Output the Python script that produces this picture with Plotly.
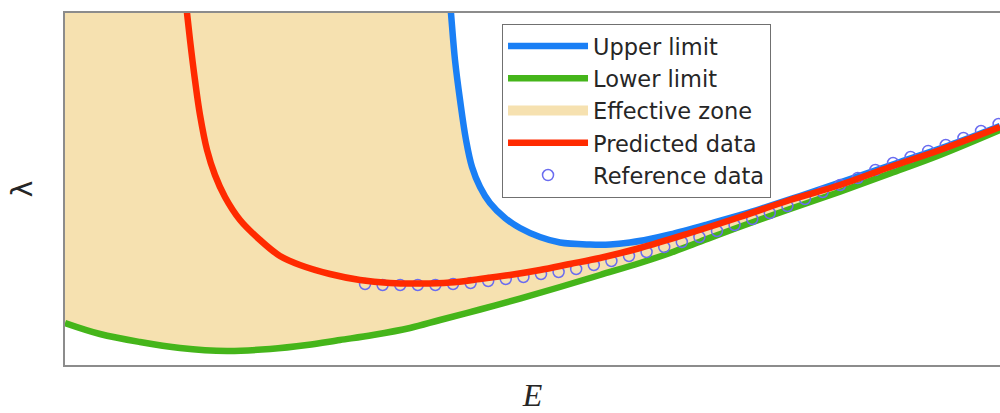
import numpy as np
import plotly.graph_objects as go

# ---- data (arbitrary units) ----
X_MAX = 10.0
Y_TOP = 10.0

upper_x = [4.107, 4.128, 4.171, 4.225, 4.289, 4.353, 4.439, 4.545, 4.706, 4.866,
           5.080, 5.294, 5.615, 5.829, 6.043, 6.257, 6.471, 6.866, 7.219, 7.433,
           7.861, 8.396, 8.930, 9.465, 10.0]
upper_y = [10.65, 10.0, 8.665, 7.528, 6.392, 5.625, 5.057, 4.602, 4.176, 3.892,
           3.636, 3.480, 3.423, 3.423, 3.480, 3.580, 3.707, 3.991, 4.261, 4.432,
           4.801, 5.284, 5.767, 6.250, 6.790]

lower_x = [0.0, 0.374, 0.802, 1.230, 1.733, 2.193, 2.588, 2.941, 3.294, 3.690,
           4.011, 4.439, 4.866, 5.294, 5.722, 6.150, 6.471, 6.791, 7.219, 7.754,
           8.289, 8.824, 9.358, 10.0]
lower_y = [1.193, 0.881, 0.653, 0.483, 0.398, 0.455, 0.568, 0.710, 0.852, 1.051,
           1.278, 1.577, 1.889, 2.216, 2.557, 2.898, 3.182, 3.503, 3.929, 4.432,
           4.923, 5.440, 5.966, 6.676]

pred_x = [1.283, 1.305, 1.337, 1.390, 1.444, 1.519, 1.604, 1.711, 1.872, 2.086,
          2.299, 2.513, 2.834, 3.155, 3.476, 3.797, 4.118, 4.439, 4.759, 5.080,
          5.401, 5.722, 6.150, 6.684, 7.219, 7.754, 8.289, 8.824, 9.358, 10.0]
pred_y = [10.65, 10.0, 9.233, 8.097, 7.102, 6.108, 5.398, 4.773, 4.119, 3.551,
          3.097, 2.841, 2.585, 2.415, 2.330, 2.315, 2.344, 2.443, 2.557, 2.699,
          2.869, 3.040, 3.324, 3.750, 4.205, 4.688, 5.114, 5.625, 6.108, 6.761]

ref_x = [3.209, 3.397, 3.585, 3.773, 3.961, 4.150, 4.338, 4.526, 4.714, 4.903,
         5.091, 5.279, 5.467, 5.656, 5.844, 6.032, 6.220, 6.409, 6.597, 6.785,
         6.973, 7.161, 7.350, 7.538, 7.726, 7.914, 8.103, 8.291, 8.479, 8.667,
         8.856, 9.044, 9.232, 9.420, 9.609, 9.797, 9.985]
ref_y = [2.301, 2.273, 2.273, 2.273, 2.273, 2.301, 2.330, 2.386, 2.443, 2.500,
         2.585, 2.642, 2.727, 2.841, 2.955, 3.097, 3.210, 3.352, 3.494, 3.636,
         3.807, 3.977, 4.148, 4.318, 4.517, 4.716, 4.915, 5.114, 5.313, 5.540,
         5.739, 5.909, 6.080, 6.250, 6.449, 6.648, 6.847]

names = ["Upper limit", "Lower limit", "Effective zone", "Predicted data", "Reference data"]

# effective zone polygon: lower limit up to min(upper limit, top of axes)
zone_x = list(lower_x) + list(upper_x[::-1]) + [0.0]
zone_y = list(lower_y) + list(np.minimum(np.array(upper_y[::-1]), Y_TOP)) + [Y_TOP]

BLUE = "#1a7ff5"
GREEN = "#45b51a"
RED = "#ff2a00"
ZONE = "#f6e1b0"
CIRC = "#6a6cf0"
LW = 6.5

fig = go.Figure()
fig.add_trace(go.Scatter(x=zone_x, y=zone_y, fill="toself", fillcolor=ZONE,
                         mode="lines", line=dict(width=0, color=ZONE),
                         name=names[2], showlegend=False, legendgroup="zone", hoverinfo="skip"))
# legend-only swatch for the zone (thick block like the original)
fig.add_trace(go.Scatter(x=[None], y=[None], mode="lines", line=dict(color=ZONE, width=20),
                         name=names[2], legendgroup="zone", legendrank=3))
fig.add_trace(go.Scatter(x=lower_x, y=lower_y, mode="lines", line=dict(color=GREEN, width=LW, shape="spline"),
                         name=names[1], legendrank=2))
fig.add_trace(go.Scatter(x=upper_x, y=upper_y, mode="lines", line=dict(color=BLUE, width=LW, shape="spline"),
                         name=names[0], legendrank=1))
fig.add_trace(go.Scatter(x=ref_x, y=ref_y, mode="markers",
                         marker=dict(symbol="circle-open", size=11, color=CIRC, line=dict(width=1.5, color=CIRC)),
                         name=names[4], legendrank=5))
fig.add_trace(go.Scatter(x=pred_x, y=pred_y, mode="lines", line=dict(color=RED, width=LW, shape="spline"),
                         name=names[3], legendrank=4))

fig.update_layout(
    width=1000, height=413,
    margin=dict(l=65, r=0, t=13, b=48),
    paper_bgcolor="white", plot_bgcolor="white",
    font=dict(family="DejaVu Sans", color="#262626"),
    showlegend=True,
    legend=dict(x=0.4674, y=0.969, xanchor="left", yanchor="top",
                bgcolor="white", bordercolor="#707070", borderwidth=1,
                font=dict(size=22.5, family="DejaVu Sans", color="#262626"),
                itemwidth=80, tracegroupgap=0),
)
fig.update_xaxes(range=[0, X_MAX], showgrid=False, zeroline=False, showticklabels=False, ticks="",
                 showline=True, linecolor="#8c8c8c", linewidth=2, mirror=True,
                 title=dict(text="<i>E</i>", font=dict(family="Liberation Serif", size=32, color="#262626"), standoff=22))
fig.update_yaxes(range=[0, Y_TOP], showgrid=False, zeroline=False, showticklabels=False, ticks="",
                 showline=True, linecolor="#8c8c8c", linewidth=2, mirror=False,
                 title=dict(text="λ", font=dict(family="DejaVu Sans", size=28, color="#262626"), standoff=22))

fig.write_html("out.html", config={"displayModeBar": False},
               post_script="document.body.style.margin='0';")
